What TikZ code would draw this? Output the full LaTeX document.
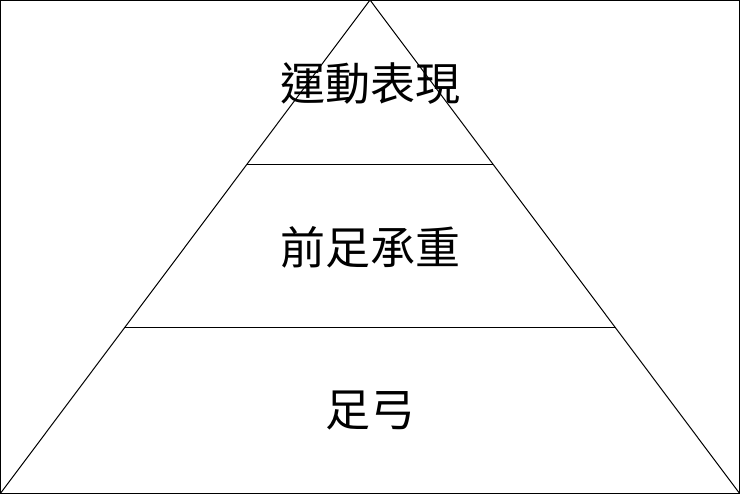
\documentclass[tikz,border=0pt]{standalone}
\usepackage{fontspec}
\newfontfamily\cjk{Noto Sans CJK TC}
\begin{document}
\begin{tikzpicture}[x=1pt,y=-1pt,lbl/.style={font=\cjk\fontsize{45}{50}\selectfont,inner sep=0pt}]
\useasboundingbox (0,0) rectangle (740,494);
\draw[line width=1.2pt] (0.6,0.6) rectangle (739.4,493.4);
\coordinate (apex) at (370,0);
\coordinate (bl) at (0,494);
\coordinate (br) at (740,494);
\draw[line width=1pt] (bl) -- (apex) -- (br);
\coordinate (l1) at (247,165); \coordinate (r1) at (493,165);
\coordinate (l2) at (124,328); \coordinate (r2) at (616,328);
\draw[line width=1pt] (l1) -- (r1);
\draw[line width=1pt] (l2) -- (r2);
\node[lbl] (t1) at (370,84) {運動表現};
\node[lbl] (t2) at (370,247) {前足承重};
\node[lbl] (t3) at (370,411) {足弓};
\end{tikzpicture}
\end{document}
